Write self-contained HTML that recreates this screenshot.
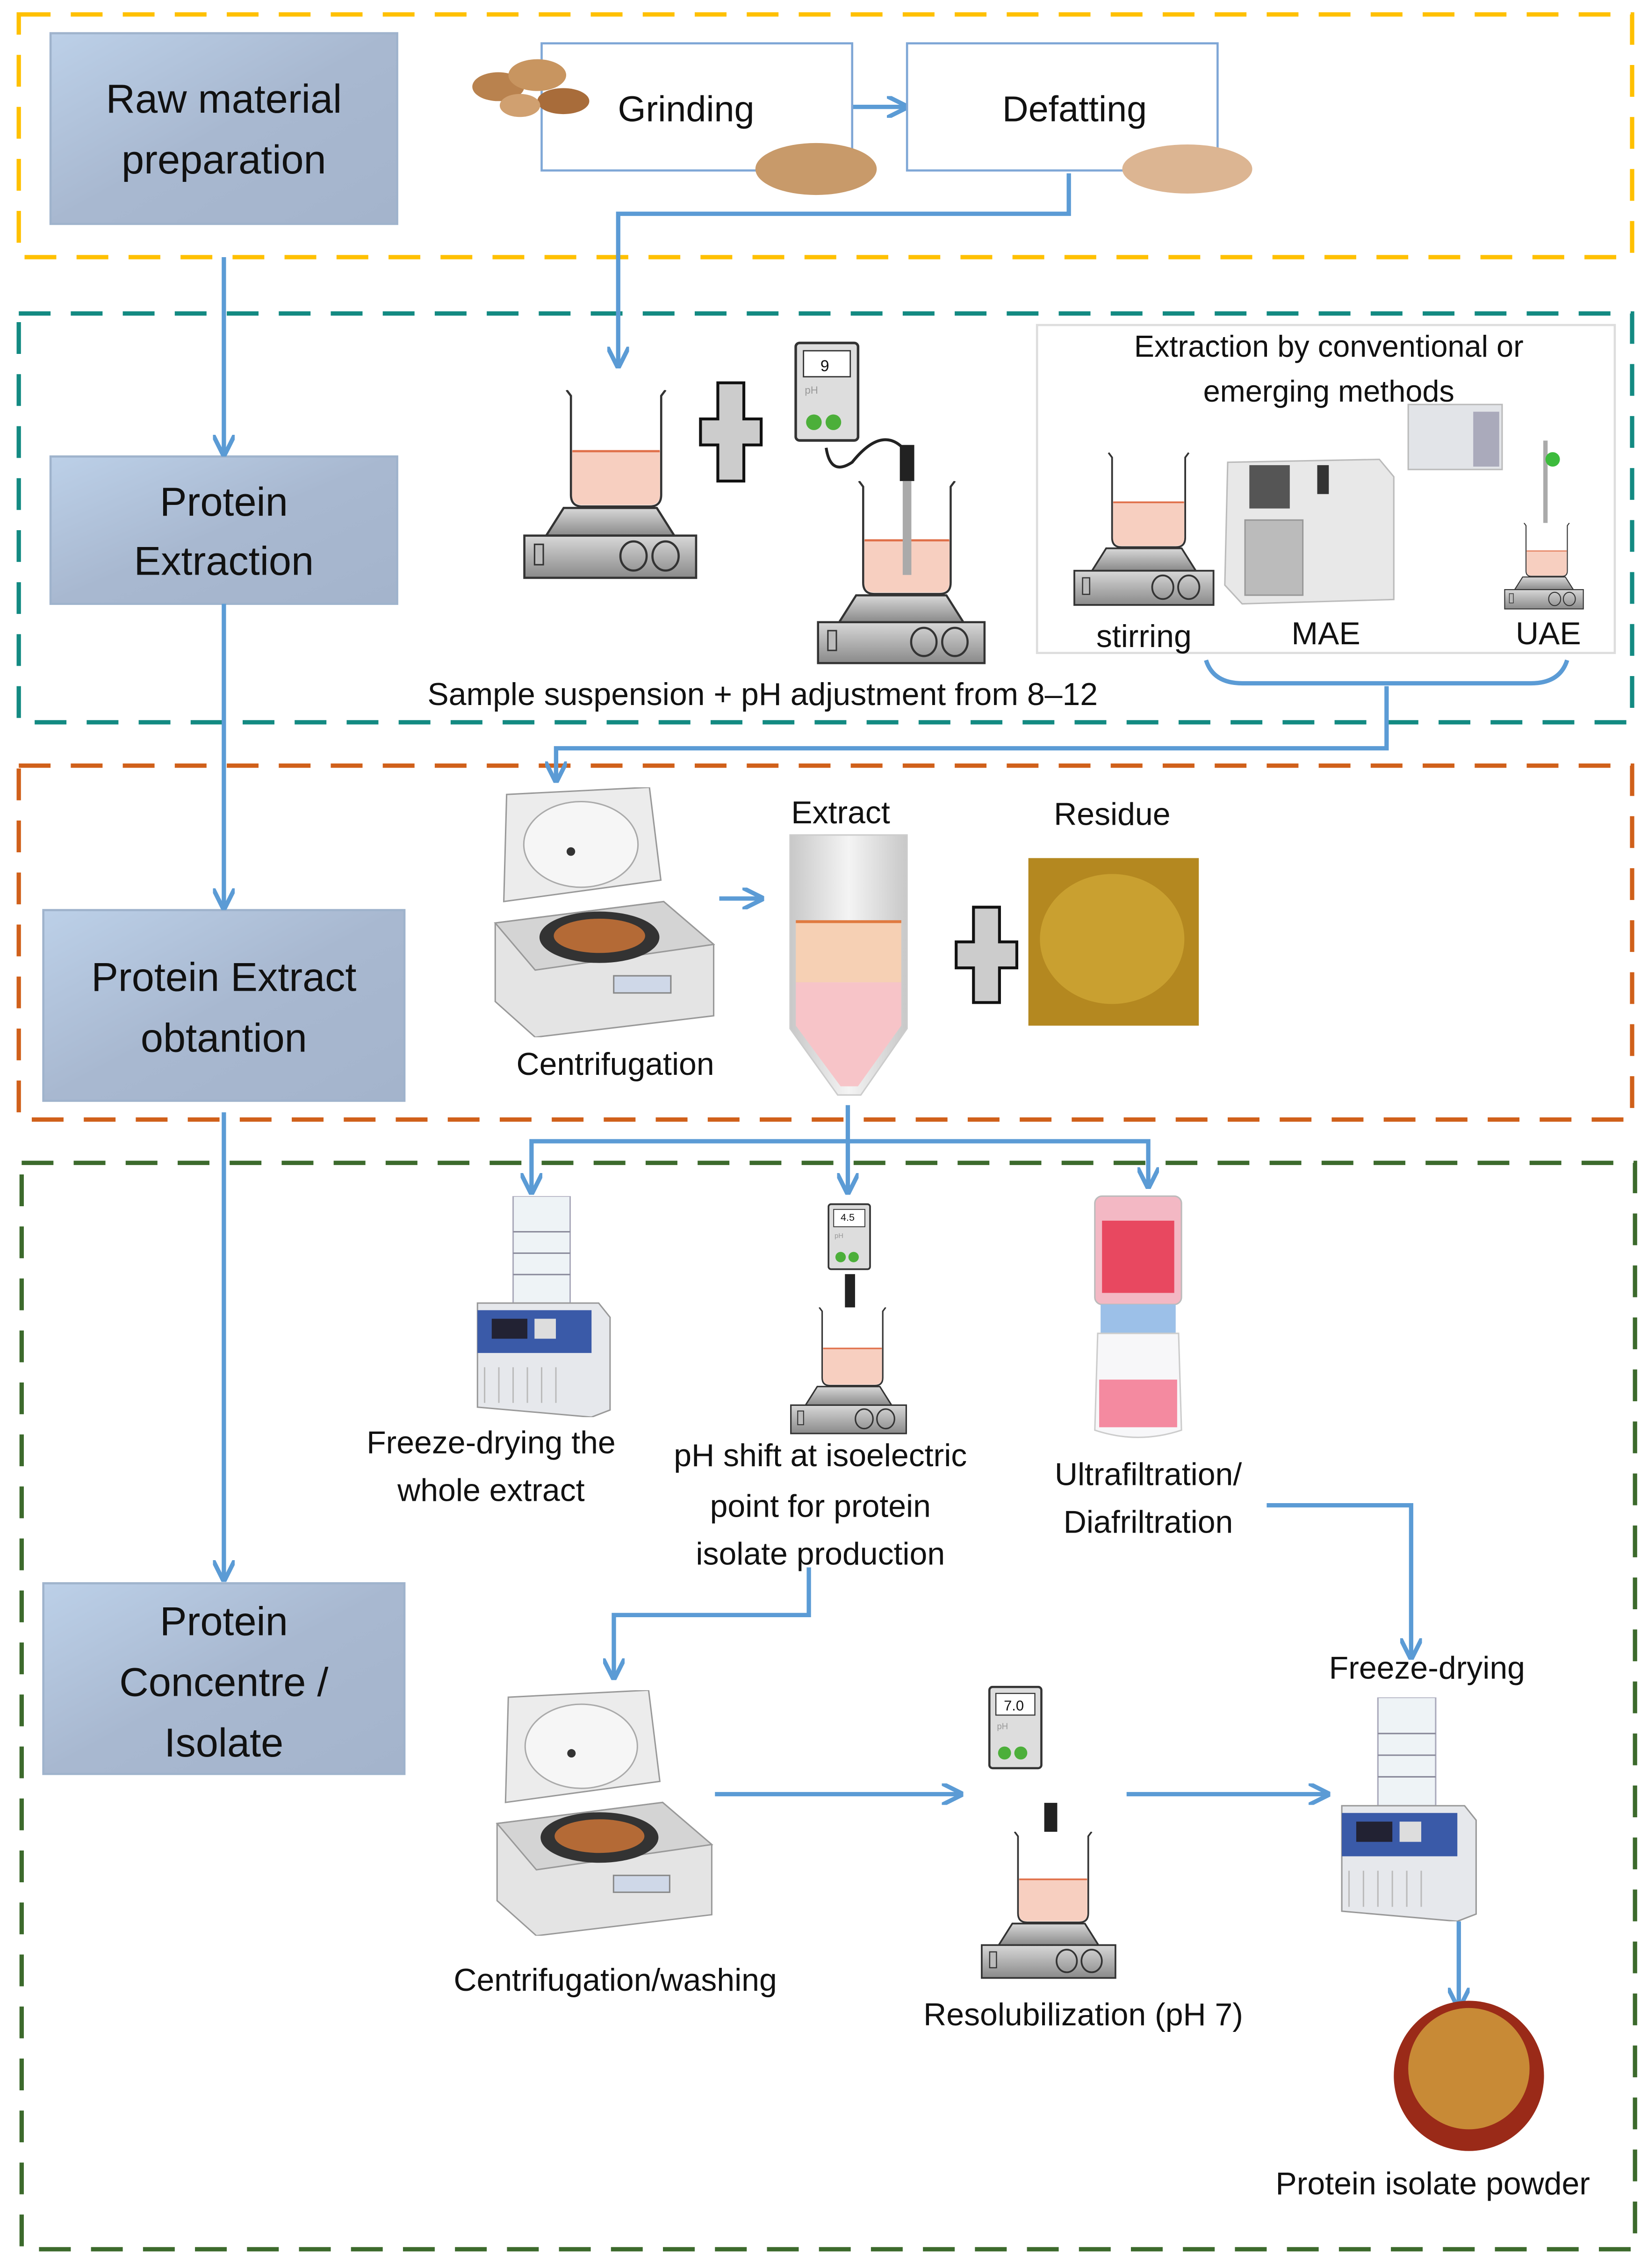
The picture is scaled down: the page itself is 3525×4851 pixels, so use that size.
<!DOCTYPE html>
<html><head><meta charset="utf-8"><style>
html,body{margin:0;padding:0;background:#fff}
svg{display:block}
text{font-family:"Liberation Sans",sans-serif;fill:#111}
</style></head><body>
<svg width="3525" height="4851" viewBox="0 0 1141 1570" preserveAspectRatio="none" xmlns="http://www.w3.org/2000/svg">
<defs>
<linearGradient id="bx" x1="0" y1="0" x2="1" y2="1"><stop offset="0" stop-color="#bcd0e8"/><stop offset="0.5" stop-color="#a8b8d0"/><stop offset="1" stop-color="#a4b4cc"/></linearGradient>
<linearGradient id="mt" x1="0" y1="0" x2="0" y2="1"><stop offset="0" stop-color="#d8d8d8"/><stop offset="1" stop-color="#8a8a8a"/></linearGradient>
<linearGradient id="tube" x1="0" y1="0" x2="1" y2="0"><stop offset="0" stop-color="#c8c8c8"/><stop offset="0.5" stop-color="#f4f4f4"/><stop offset="1" stop-color="#c8c8c8"/></linearGradient>
<marker id="ah" viewBox="0 0 10 10" refX="8" refY="5" markerWidth="5" markerHeight="5" orient="auto"><path d="M0,0 L10,5 L0,10" fill="none" stroke="#5b9bd5" stroke-width="2"/></marker>
<symbol id="stir" viewBox="0 0 120 130">
<path d="M30,0 L33,4 L33,72 Q33,80 41,80 L87,80 Q95,80 95,72 L95,4 L98,0" fill="#fff" stroke="#333" stroke-width="1.5"/>
<path d="M33.8,42 L94.2,42 L94.2,72 Q94.2,79 87,79 L41,79 Q33.8,79 33.8,72 Z" fill="#f7cfc0"/>
<line x1="34" y1="42" x2="94" y2="42" stroke="#e0704a" stroke-width="1.5"/>
<path d="M28,81 L92,81 L104,100 L16,100 Z" fill="url(#mt)" stroke="#333" stroke-width="1.5"/>
<rect x="1" y="100" width="118" height="29" fill="url(#mt)" stroke="#333" stroke-width="1.5"/>
<rect x="8" y="106" width="6" height="14" fill="#bbb" stroke="#333"/>
<ellipse cx="76" cy="114" rx="9" ry="10" fill="none" stroke="#333" stroke-width="1.5"/>
<ellipse cx="98" cy="114" rx="9" ry="10" fill="none" stroke="#333" stroke-width="1.5"/>
</symbol>
<symbol id="ph" viewBox="0 0 50 80">
<rect x="1" y="1" width="48" height="75" rx="3" fill="#ddd" stroke="#333" stroke-width="2"/>
<rect x="7" y="7" width="36" height="20" fill="#fff" stroke="#333"/>
<text x="8" y="40" style="font-size:8px;fill:#999">pH</text>
<circle cx="15" cy="62" r="6" fill="#4caf3a"/><circle cx="30" cy="62" r="6" fill="#4caf3a"/>
</symbol>
<symbol id="cent" viewBox="0 0 155 175">
<path d="M10,5 L110,0 L118,65 L8,80 Z" fill="#ececec" stroke="#999"/>
<ellipse cx="62" cy="40" rx="40" ry="30" fill="#f6f6f6" stroke="#aaa"/>
<circle cx="55" cy="45" r="3" fill="#333"/>
<path d="M2,95 L120,80 L155,110 L155,160 L30,175 L2,150 Z" fill="#e4e4e4" stroke="#999"/>
<path d="M2,95 L120,80 L155,110 L30,128 Z" fill="#d4d4d4" stroke="#999"/>
<ellipse cx="75" cy="105" rx="42" ry="18" fill="#333"/>
<ellipse cx="75" cy="104" rx="32" ry="12" fill="#b46a36"/>
<rect x="85" y="132" width="40" height="12" fill="#cfd8e8" stroke="#888"/>
</symbol>
<symbol id="fd" viewBox="0 0 100 155">
<rect x="30" y="0" width="40" height="75" fill="#eef3f6" stroke="#aab" />
<line x1="30" y1="25" x2="70" y2="25" stroke="#889"/><line x1="30" y1="40" x2="70" y2="40" stroke="#889"/><line x1="30" y1="55" x2="70" y2="55" stroke="#889"/>
<path d="M5,75 L90,75 L98,85 L98,150 L85,155 L5,148 Z" fill="#e6e8ec" stroke="#999"/>
<rect x="5" y="80" width="80" height="30" fill="#3a5aa8"/>
<rect x="15" y="86" width="25" height="14" fill="#223" />
<rect x="45" y="86" width="15" height="14" fill="#ddd"/>
<g stroke="#bbb"><line x1="10" y1="120" x2="10" y2="145"/><line x1="20" y1="120" x2="20" y2="145"/><line x1="30" y1="120" x2="30" y2="145"/><line x1="40" y1="120" x2="40" y2="145"/><line x1="50" y1="120" x2="50" y2="145"/><line x1="60" y1="120" x2="60" y2="145"/></g>
</symbol>
</defs>

<g fill="none" stroke-width="3" stroke-dasharray="22,14">
<rect x="13" y="10" width="1117" height="168" stroke="#ffc000"/>
<rect x="13" y="217" width="1117" height="283" stroke="#138a82"/>
<rect x="13" y="530" width="1117" height="245" stroke="#d0601a"/>
<rect x="15" y="805" width="1117" height="752" stroke="#3c6a2c"/>
</g>

<g stroke="#9fb3cc" stroke-width="1.5" fill="url(#bx)">
<rect x="35" y="23" width="240" height="132"/>
<rect x="35" y="316" width="240" height="102"/>
<rect x="30" y="630" width="250" height="132"/>
<rect x="30" y="1096" width="250" height="132"/>
</g>
<g text-anchor="middle" style="font-size:28px">
<text x="155" y="78">Raw material</text><text x="155" y="120">preparation</text>
<text x="155" y="357">Protein</text><text x="155" y="398">Extraction</text>
<text x="155" y="686">Protein Extract</text><text x="155" y="728">obtantion</text>
<text x="155" y="1132">Protein</text><text x="155" y="1174">Concentre /</text><text x="155" y="1216">Isolate</text>
</g>

<g fill="none" stroke="#5b9bd5" stroke-width="3" marker-end="url(#ah)">
<line x1="155" y1="178" x2="155" y2="313"/>
<line x1="155" y1="418" x2="155" y2="627"/>
<line x1="155" y1="770" x2="155" y2="1092"/>
<line x1="590" y1="74" x2="626" y2="74"/>
<polyline points="740,120 740,148 428,148 428,252"/>
<polyline points="960,475 960,518 385,518 385,539"/>
<line x1="498" y1="622" x2="526" y2="622"/>
<polyline points="587,765 587,824"/>
<polyline points="587,790 368,790 368,824"/>
<polyline points="587,790 795,790 795,820"/>
<polyline points="560,1085 560,1118 425,1118 425,1160"/>
<polyline points="877,1042 977,1042 977,1146"/>
<line x1="495" y1="1242" x2="664" y2="1242"/>
<line x1="780" y1="1242" x2="918" y2="1242"/>
<line x1="1010" y1="1330" x2="1010" y2="1388"/>
</g>
<path d="M835,457 Q840,473 860,473 L1060,473 Q1080,473 1085,457" fill="none" stroke="#5b9bd5" stroke-width="3"/>

<rect x="375" y="30" width="215" height="88" fill="#fff" stroke="#7fa7d6" stroke-width="1.5"/>
<rect x="628" y="30" width="215" height="88" fill="#fff" stroke="#7fa7d6" stroke-width="1.5"/>
<text x="475" y="84" text-anchor="middle" style="font-size:25px">Grinding</text>
<text x="744" y="84" text-anchor="middle" style="font-size:25px">Defatting</text>
<g fill="#b9824e"><ellipse cx="345" cy="60" rx="18" ry="10"/><ellipse cx="372" cy="52" rx="20" ry="11" fill="#c89560"/><ellipse cx="390" cy="70" rx="18" ry="9" fill="#a86c3a"/><ellipse cx="360" cy="73" rx="14" ry="8" fill="#d0a070"/></g>
<ellipse cx="565" cy="117" rx="42" ry="18" fill="#c89a6a"/>
<ellipse cx="822" cy="117" rx="45" ry="17" fill="#dcb592"/>

<use href="#stir" x="362" y="270" width="121" height="131"/>
<path d="M497,265 h18 v25 h12 v18 h-12 v25 h-18 v-25 h-12 v-18 h12 z" fill="#ccc" stroke="#111" stroke-width="2"/>
<use href="#ph" x="550" y="235" width="45" height="75"/>
<text x="568" y="257" style="font-size:11px">9</text>
<path d="M572,310 Q575,330 590,320 Q610,295 625,310" fill="none" stroke="#222" stroke-width="2"/>
<use href="#stir" x="563" y="333" width="122" height="127"/>
<rect x="623" y="308" width="10" height="25" fill="#222"/>
<rect x="625" y="333" width="6" height="65" fill="#aaa"/>
<text x="528" y="488" text-anchor="middle" style="font-size:22px">Sample suspension + pH adjustment  from 8–12</text>

<rect x="718" y="225" width="400" height="227" fill="none" stroke="#ddd" stroke-width="1.5"/>
<text x="920" y="247" text-anchor="middle" style="font-size:21px">Extraction by conventional or</text>
<text x="920" y="278" text-anchor="middle" style="font-size:21px">emerging methods</text>
<use href="#stir" x="743" y="313" width="98" height="107"/>
<path d="M850,320 L955,318 L965,330 L965,415 L860,418 L848,405 Z" fill="#e8e8e8" stroke="#bbb"/>
<rect x="865" y="322" width="28" height="30" fill="#555"/>
<rect x="912" y="322" width="8" height="20" fill="#333"/>
<rect x="862" y="360" width="40" height="52" fill="#bbb" stroke="#999"/>
<rect x="975" y="280" width="65" height="45" fill="#e2e4e8" stroke="#bbb"/>
<rect x="1020" y="285" width="18" height="38" fill="#aab" />
<line x1="1070" y1="305" x2="1070" y2="385" stroke="#aaa" stroke-width="3"/>
<circle cx="1075" cy="318" r="5" fill="#3cbb3c"/>
<use href="#stir" x="1040" y="362" width="58" height="60"/>
<g style="font-size:22px" text-anchor="middle"><text x="792" y="448">stirring</text><text x="918" y="446">MAE</text><text x="1072" y="446">UAE</text></g>

<use href="#cent" x="340" y="545" width="155" height="173"/>
<text x="426" y="744" text-anchor="middle" style="font-size:22px">Centrifugation</text>
<text x="582" y="570" text-anchor="middle" style="font-size:22px">Extract</text>
<text x="770" y="571" text-anchor="middle" style="font-size:22px">Residue</text>
<path d="M547,578 L628,578 L628,712 L596,758 L580,758 L547,712 Z" fill="url(#tube)" stroke="#ccc"/>
<rect x="551" y="638" width="73" height="42" fill="#f6d0b4"/>
<path d="M551,680 L624,680 L624,710 L594,752 L582,752 L551,710 Z" fill="#f7c4c8"/>
<line x1="551" y1="638" x2="624" y2="638" stroke="#e07a40" stroke-width="2"/>
<path d="M674,628 h18 v24 h12 v18 h-12 v24 h-18 v-24 h-12 v-18 h12 z" fill="#ccc" stroke="#111" stroke-width="2"/>
<rect x="712" y="594" width="118" height="116" fill="#b48820"/>
<ellipse cx="770" cy="650" rx="50" ry="45" fill="#c9a030"/>

<use href="#fd" x="325" y="828" width="100" height="153"/>
<text x="340" y="1006" text-anchor="middle" style="font-size:22px">Freeze-drying the</text>
<text x="340" y="1039" text-anchor="middle" style="font-size:22px">whole extract</text>
<use href="#ph" x="573" y="832" width="30" height="50"/>
<text x="582" y="845" style="font-size:7px">4.5</text>
<rect x="585" y="882" width="7" height="45" fill="#222"/>
<use href="#stir" x="545" y="905" width="85" height="88"/>
<text x="568" y="1015" text-anchor="middle" style="font-size:22px">pH shift at isoelectric</text>
<text x="568" y="1050" text-anchor="middle" style="font-size:22px">point for protein</text>
<text x="568" y="1083" text-anchor="middle" style="font-size:22px">isolate production</text>
<rect x="758" y="828" width="60" height="75" rx="5" fill="#f3b8c4" stroke="#bbb"/>
<rect x="763" y="845" width="50" height="50" fill="#e84860"/>
<rect x="762" y="903" width="52" height="20" fill="#9cc0e8"/>
<path d="M760,923 L816,923 L818,990 Q788,1000 758,990 Z" fill="#f7f7f9" stroke="#ccc"/>
<rect x="761" y="955" width="54" height="33" fill="#f48aa0"/>
<text x="795" y="1028" text-anchor="middle" style="font-size:22px">Ultrafiltration/</text>
<text x="795" y="1061" text-anchor="middle" style="font-size:22px">Diafriltration</text>

<use href="#cent" x="340" y="1170" width="155" height="170"/>
<text x="426" y="1378" text-anchor="middle" style="font-size:22px">Centrifugation/washing</text>
<use href="#ph" x="683" y="1167" width="40" height="60"/>
<text x="695" y="1184" style="font-size:10px">7.0</text>
<rect x="723" y="1248" width="9" height="25" fill="#222"/>
<use href="#stir" x="671" y="1268" width="110" height="102"/>
<text x="750" y="1402" text-anchor="middle" style="font-size:22px">Resolubilization (pH 7)</text>
<text x="988" y="1162" text-anchor="middle" style="font-size:22px">Freeze-drying</text>
<use href="#fd" x="922" y="1175" width="104" height="155"/>
<circle cx="1017" cy="1437" r="52" fill="#9a2a18"/>
<circle cx="1017" cy="1432" r="42" fill="#c88a36"/>
<text x="992" y="1519" text-anchor="middle" style="font-size:22px">Protein isolate powder</text>
</svg>
</body></html>
